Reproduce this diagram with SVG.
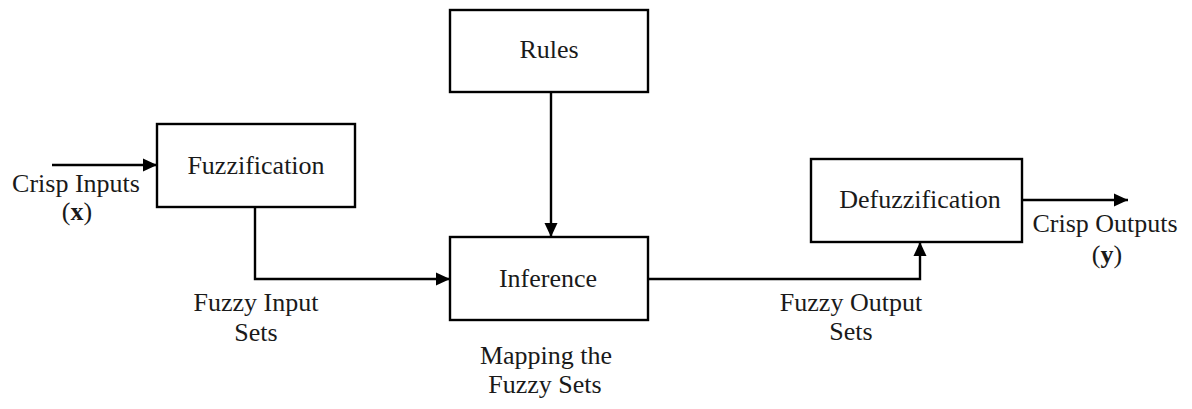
<svg xmlns="http://www.w3.org/2000/svg" width="1192" height="409" viewBox="0 0 1192 409">
<style>
.box{fill:#fff;stroke:#000;stroke-width:2.4}
.ln{fill:none;stroke:#000;stroke-width:2.4}
text{font-family:'Liberation Serif','Times New Roman',serif;font-size:26px;fill:#1a1a1a;text-anchor:middle}
</style>
<defs>
<marker id="ah" viewBox="0 0 14 14" refX="14" refY="7" markerWidth="14" markerHeight="14" markerUnits="userSpaceOnUse" orient="auto">
<path d="M0,0.5 L14,7 L0,13.5 Z" fill="#000"/>
</marker>
</defs>
<rect width="1192" height="409" fill="#fff"/>
<g id="connectors">
<line class="ln" x1="52" y1="165" x2="157" y2="165" marker-end="url(#ah)"/>
<polyline class="ln" points="255,207 255,279 450,279" marker-end="url(#ah)"/>
<line class="ln" x1="551" y1="92" x2="551" y2="237" marker-end="url(#ah)"/>
<polyline class="ln" points="648,279 920,279 920,242" marker-end="url(#ah)"/>
<line class="ln" x1="1022" y1="200" x2="1128" y2="200" marker-end="url(#ah)"/>
</g>
<g id="rules">
<rect class="box" x="450" y="10" width="198" height="82"/>
<text x="549" y="58">Rules</text>
</g>
<g id="fuzzification">
<rect class="box" x="157" y="124" width="198" height="83"/>
<text x="256" y="174">Fuzzification</text>
</g>
<g id="inference">
<rect class="box" x="450" y="237" width="198" height="83"/>
<text x="548" y="287">Inference</text>
</g>
<g id="defuzzification">
<rect class="box" x="811" y="159" width="211" height="83"/>
<text x="920" y="208">Defuzzification</text>
</g>
<g id="labels">
<text x="76" y="192">Crisp Inputs</text>
<text x="77" y="220">(<tspan font-weight="bold">x</tspan>)</text>
<text x="256" y="311">Fuzzy Input</text>
<text x="256" y="341">Sets</text>
<text x="546" y="364">Mapping the</text>
<text x="545" y="393">Fuzzy Sets</text>
<text x="851" y="311">Fuzzy Output</text>
<text x="851" y="340">Sets</text>
<text x="1105" y="232">Crisp Outputs</text>
<text x="1107" y="263">(<tspan font-weight="bold">y</tspan>)</text>
</g>
</svg>
